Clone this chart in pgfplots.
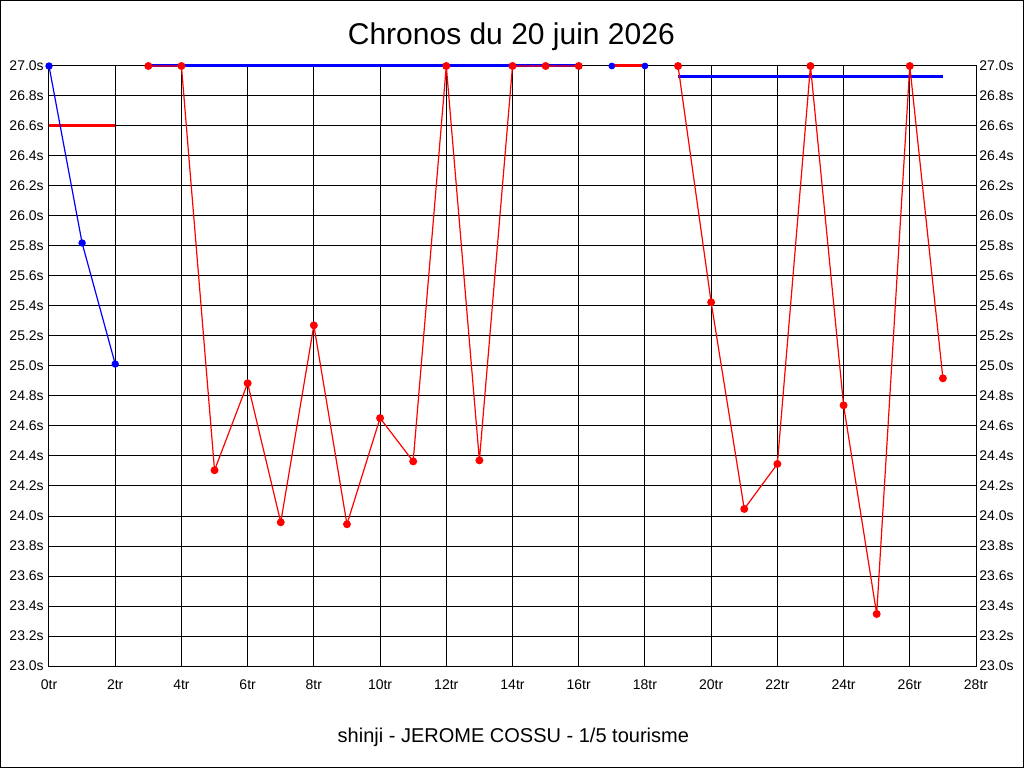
\documentclass[border=0pt]{standalone}
\usepackage{pgfplots}
\pgfplotsset{compat=1.18}
\usepackage{fontspec}
\setmainfont{Liberation Sans}
\definecolor{pred}{RGB}{255,0,0}
\definecolor{pblue}{RGB}{0,0,255}
\begin{document}
\begin{tikzpicture}[x=1pt,y=1pt]
\useasboundingbox (0,0) rectangle (768,576);
\draw[line width=0.75pt] (0.375,0.375) rectangle (767.625,575.625);
\node[anchor=base,inner sep=0,font=\fontsize{22.5}{25}\selectfont] at (383.5,542.5) {Chronos du 20 juin 2026};
\node[anchor=base,inner sep=0,font=\fontsize{15}{18}\selectfont] at (385,19.5) {shinji - JEROME COSSU - 1/5 tourisme};
\pgfplotsset{
  common/.style={
    at={(36.75pt,76.5pt)}, anchor=south west,
    width=695.25pt, height=450pt, scale only axis,
    xmin=0, xmax=28, ymin=23, ymax=27,
    clip=false,
    major tick length=0pt,
    ytick={23,23.2,23.4,23.6,23.8,24,24.2,24.4,24.6,24.8,25,25.2,25.4,25.6,25.8,26,26.2,26.4,26.6,26.8,27},
    yticklabels={23.0s,23.2s,23.4s,23.6s,23.8s,24.0s,24.2s,24.4s,24.6s,24.8s,25.0s,25.2s,25.4s,25.6s,25.8s,26.0s,26.2s,26.4s,26.6s,26.8s,27.0s},
    tick label style={font=\fontsize{10.5}{12}\selectfont},
  }
}
\begin{axis}[common,
  xtick={0,2,...,28},
  xticklabels={0tr,2tr,4tr,6tr,8tr,10tr,12tr,14tr,16tr,18tr,20tr,22tr,24tr,26tr,28tr},
  grid=major,
  grid style={black, line width=0.75pt},
  axis line style={black, line width=0.75pt},
  xticklabel style={anchor=base, inner sep=0pt, yshift=-17.25pt},
  yticklabel style={anchor=east, inner sep=0pt, xshift=-3.75pt},
]
% summary lines
\addplot[pred, line width=2.25pt] coordinates {(0,26.6) (2,26.6)};
\addplot[pblue, line width=2.25pt] coordinates {(3,27.0) (16,27.0)};
\addplot[pred, line width=2.25pt] coordinates {(17,27.0) (18,27.0)};
\addplot[pblue, line width=2.25pt] coordinates {(19,26.933) (27,26.933)};
% laps
\addplot[pblue, line width=0.9pt, mark=*, mark size=2.3pt, mark options={solid, fill=pblue, draw=pblue}] coordinates {
(0,27.0) (1,25.82) (2,25.013)};
\addplot[pred, line width=0.9pt, mark=*, mark size=2.5pt, mark options={solid, fill=pred, draw=pred}] coordinates {
(3,27.0) (4,27.0) (5,24.305) (6,24.885) (7,23.958) (8,25.271) (9,23.945) (10,24.653) (11,24.364) (12,27.0) (13,24.371) (14,27.0) (15,27.0) (16,27.0)};
\addplot[pblue, only marks, mark=*, mark size=2.3pt, mark options={solid, fill=pblue, draw=pblue}] coordinates {
(17,27.0) (18,27.0)};
\addplot[pred, line width=0.9pt, mark=*, mark size=2.5pt, mark options={solid, fill=pred, draw=pred}] coordinates {
(19,27.0) (20,25.425) (21,24.047) (22,24.347) (23,27.0) (24,24.738) (25,23.347) (26,27.0) (27,24.918)};
\end{axis}
\begin{axis}[common,
  hide x axis,
  axis y line*=right,
  axis line style={draw=none},
  yticklabel style={anchor=west, inner sep=0pt, xshift=2.25pt},
]
\end{axis}
\end{tikzpicture}
\end{document}
